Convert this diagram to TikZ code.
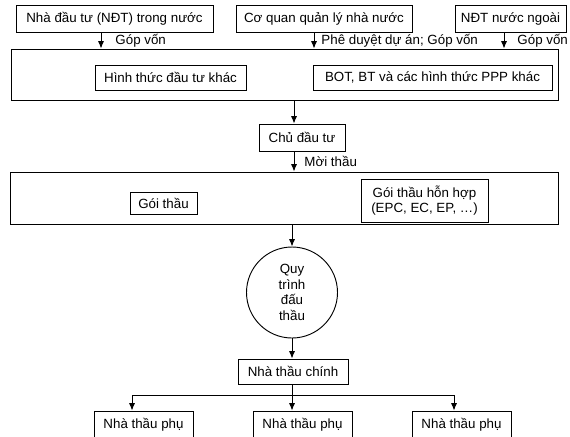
\documentclass[tikz,border=0pt]{standalone}
\usepackage{fontspec}
\setmainfont{Liberation Sans}
\usetikzlibrary{arrows.meta}
\begin{document}
\begin{tikzpicture}[x=0.75pt,y=-0.75pt,
  every node/.style={font=\fontsize{10}{11.8}\selectfont},
  box/.style={draw=black, line width=0.7pt, inner sep=0pt, align=center},
  lbl/.style={inner sep=0pt, anchor=west},
  arr/.style={line width=0.7pt, -{Latex[length=5.5pt,width=4.5pt]}},
  ln/.style={line width=0.7pt}]
\clip (0,0) rectangle (570,436);
% top sources
\node[box, minimum width=147.75pt, minimum height=20.25pt] (inv1) at (114.5,18.5) {Nhà đầu tư (NĐT) trong nước};
\node[box, minimum width=132pt, minimum height=20.25pt] (gov) at (324,18.5) {Cơ quan quản lý nhà nước};
\node[box, minimum width=83.25pt, minimum height=20.25pt] (inv2) at (510.5,18.5) {NĐT nước ngoài};
% big box 1
\node[box, minimum width=410.25pt, minimum height=38.25pt] (big1) at (284.5,74.5) {};
\node[box, minimum width=113.25pt, minimum height=18.75pt] (other) at (170.5,77.5) {Hình thức đầu tư khác};
\node[box, minimum width=179.25pt, minimum height=18.75pt] (bot) at (432.5,77.5) {BOT, BT và các hình thức PPP khác};
% owner
\node[box, minimum width=64.5pt, minimum height=20.25pt] (owner) at (302,137.5) {Chủ đầu tư};
% big box 2
\node[box, minimum width=411pt, minimum height=39pt] (big2) at (284,198) {};
\node[box, minimum width=50.25pt, minimum height=16.5pt] (pkg) at (163.5,203.5) {Gói thầu};
\node[box, minimum width=95.25pt, minimum height=32.25pt] (mixed) at (424.5,200.5) {Gói thầu hỗn hợp\\(EPC, EC, EP, …)};
% process circle
\node[box, circle, minimum size=68.25pt] (proc) at (292,292.5) {Quy\\trình\\đấu\\thầu};
% main contractor
\node[box, minimum width=82.5pt, minimum height=18.75pt] (main) at (293,371.5) {Nhà thầu chính};
% subcontractors
\node[box, minimum width=74.25pt, minimum height=21pt] (subL) at (143.5,425) {Nhà thầu phụ};
\node[box, minimum width=74.25pt, minimum height=21pt] (subM) at (302.5,425) {Nhà thầu phụ};
\node[box, minimum width=74.25pt, minimum height=21pt] (subR) at (461.5,425) {Nhà thầu phụ};
% coordinates for connector positions
\coordinate (c1) at (101,0);
\coordinate (c2) at (314,0);
\coordinate (c3) at (504,0);
\coordinate (c4) at (294,0);
\coordinate (j) at (292,395);
\coordinate (jl) at (132,395);
\coordinate (jr) at (454,395);
% connectors
\draw[arr] (inv1.south -| c1) -- node[lbl, xshift=10.5pt] (l1) {Góp vốn} (big1.north -| c1);
\draw[arr] (gov.south -| c2) -- node[lbl, xshift=5.25pt] (l2) {Phê duyệt dự án; Góp vốn} (big1.north -| c2);
\draw[arr] (inv2.south -| c3) -- node[lbl, xshift=9.75pt] (l3) {Góp vốn} (big1.north -| c3);
\draw[arr] (big1.south -| c4) -- (owner.north -| c4);
\draw[arr] (owner.south -| c4) -- node[lbl, xshift=7.5pt] (l4) {Mời thầu} (big2.north -| c4);
\draw[arr] (big2.south -| proc.north) -- (proc.north);
\draw[arr] (proc.south) -- (proc.south |- main.north);
\draw[arr] (main.south -| j) -- (j |- subM.north);
\draw[arr] (j) -| (jl |- subL.north);
\draw[arr] (j) -| (jr |- subR.north);
\end{tikzpicture}
\end{document}
